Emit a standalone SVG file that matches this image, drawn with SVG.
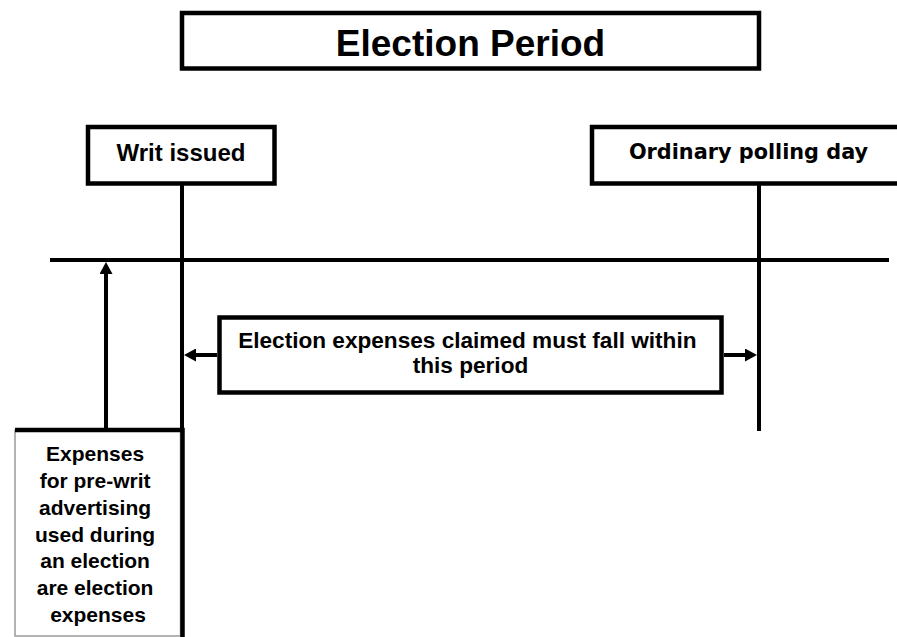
<svg xmlns="http://www.w3.org/2000/svg" width="897" height="637" viewBox="0 0 897 637">
  <style>
    .box { fill: #ffffff; stroke: #000000; stroke-width: 4.5; }
    .ln { fill: none; stroke: #000000; stroke-width: 4; }
    .t { font-family: "Liberation Sans", Arial, sans-serif; font-weight: bold; fill: #000000; text-anchor: middle; }
    .tv { font-family: "DejaVu Sans", Verdana, sans-serif; font-weight: bold; fill: #000000; text-anchor: middle; }
  </style>
  <defs>
    <marker id="ah" markerUnits="userSpaceOnUse" markerWidth="12" markerHeight="13" refX="4" refY="6.5" orient="auto">
      <path d="M0,0 L12,6.5 L0,13 z" fill="#000000"/>
    </marker>
  </defs>
  <rect width="897" height="637" fill="#ffffff"/>

  <g id="connectors">
    <line class="ln" x1="50" y1="260" x2="889" y2="260"/>
    <line class="ln" x1="182" y1="184" x2="182" y2="430"/>
    <line class="ln" x1="759" y1="184" x2="759" y2="431"/>
    <line class="ln" x1="217" y1="355" x2="192" y2="355" marker-end="url(#ah)"/>
    <line class="ln" x1="724" y1="355" x2="749" y2="355" marker-end="url(#ah)"/>
    <line class="ln" x1="106" y1="430" x2="106" y2="270" marker-end="url(#ah)"/>
  </g>

  <g id="title">
    <rect class="box" x="182" y="13" width="577" height="55.5"/>
    <text class="t" x="470.5" y="56" font-size="37">Election Period</text>
  </g>

  <g id="writ-issued">
    <rect class="box" x="88" y="127" width="186.5" height="56.5"/>
    <text class="t" x="181" y="160.5" font-size="24">Writ issued</text>
  </g>

  <g id="ordinary-polling-day">
    <rect class="box" x="592" y="127" width="320" height="56.5"/>
    <text class="tv" x="748.5" y="159" font-size="20.8">Ordinary polling day</text>
  </g>

  <g id="election-expenses-period">
    <rect class="box" x="219.5" y="317.5" width="502" height="75"/>
    <text class="t" font-size="22.6">
      <tspan x="470.5" y="347.5">Election expenses claimed must fall within</tspan>
      <tspan x="470.5" y="372.5">this period</tspan>
    </text>
  </g>

  <g id="pre-writ-expenses">
    <rect x="15" y="430" width="165.5" height="206" fill="#ffffff" stroke="#9a9a9a" stroke-width="1.5"/>
    <path d="M15,430 H182.5 V637" fill="none" stroke="#000000" stroke-width="4.5"/>
    <text class="t" font-size="21">
      <tspan x="98" y="461">Expenses</tspan>
      <tspan x="98" y="488">for pre-writ</tspan>
      <tspan x="98" y="515">advertising</tspan>
      <tspan x="98" y="542">used during</tspan>
      <tspan x="98" y="568">an election</tspan>
      <tspan x="98" y="595">are election</tspan>
      <tspan x="98" y="622">expenses</tspan>
    </text>
  </g>
</svg>
